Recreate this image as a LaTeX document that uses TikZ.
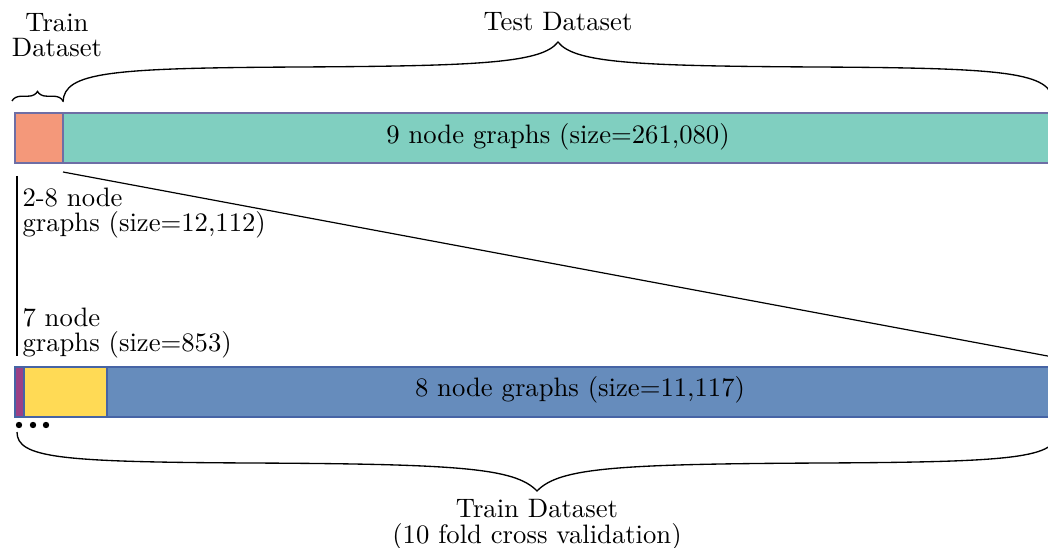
\documentclass[tikz,border=0pt]{standalone}
\usetikzlibrary{decorations.pathreplacing}
\definecolor{corange}{RGB}{244,152,122}
\definecolor{cteal}{RGB}{128,207,192}
\definecolor{cpurple}{RGB}{155,64,134}
\definecolor{cyellow}{RGB}{255,218,85}
\definecolor{cblue}{RGB}{102,140,188}
\definecolor{cedge}{RGB}{110,110,165}
\definecolor{cedgeb}{RGB}{70,100,165}
\tikzset{
  lbl/.style={font=\fontsize{10}{9.6}\selectfont, inner sep=0pt},
  barA/.style={draw=cedge, line width=0.5pt},
  barB/.style={draw=cedgeb, line width=0.5pt},
  brc/.style={decorate, decoration={brace, amplitude=#1}, line width=0.5pt},
  cbr/.style={line width=0.5pt},
  ln/.style={line width=0.45pt}
}
\begin{document}
\begin{tikzpicture}[x=0.375pt, y=-0.375pt]
\useasboundingbox (0,0) rectangle (1048,548);
% top bar
\coordinate (t0) at (15,113);
\coordinate (t1) at (63,163);
\coordinate (t2) at (63,113);
\coordinate (t3) at (1053,163);
\fill[corange] (t0) rectangle (t1);
\fill[cteal] (t2) rectangle (t3);
\draw[barA] (t0) rectangle (t3);
\draw[barA] (t2) -- (t1);
\node[lbl] (nine) at (558,137) {9 node graphs (size=261,080)};
% bottom bar
\coordinate (b0) at (15,367);
\coordinate (b1) at (24,417);
\coordinate (b2) at (24,367);
\coordinate (b3) at (107,417);
\coordinate (b4) at (107,367);
\coordinate (b5) at (1053,417);
\fill[cpurple] (b0) rectangle (b1);
\fill[cyellow] (b2) rectangle (b3);
\fill[cblue] (b4) rectangle (b5);
\draw[barB] (b0) rectangle (b5);
\draw[barB] (b2) -- (b1) (b4) -- (b3);
\node[lbl] (eight) at (580,390) {8 node graphs (size=11,117)};
% dots
\foreach \i/\x in {1/19,2/33,3/46} \fill (\x,425) circle (1.2pt);
% lines
\coordinate (v0) at (17,176);
\coordinate (v1) at (17,356);
\draw[ln] (v0) -- (v1);
\coordinate (d0) at (63,172);
\coordinate (d1) at (1053,357);
\draw[ln] (d0) -- (d1);
% labels
\node[lbl, align=left, anchor=west] (l28) at (22,213) {2-8 node\\graphs (size=12,112)};
\node[lbl, align=left, anchor=west] (l7) at (22,333) {7 node\\graphs (size=853)};
% top small brace
\coordinate (s0) at (12,101);
\coordinate (s1) at (63,101);
\draw[brc=3.6pt] (s0) -- (s1);
% top big brace
\coordinate (gL) at (63,102);
\coordinate (gT) at (558,42);
\coordinate (gR) at (1053,102);
\draw[cbr] (gL) .. controls (64,72) and (110,68) .. (300,67)
  .. controls (480,66) and (542,63) .. (gT)
  .. controls (574,63) and (636,66) .. (816,67)
  .. controls (1006,68) and (1052,72) .. (gR);
\node[lbl, align=center] (trA) at (57,35) {Train\\Dataset};
\node[lbl] (test) at (558,22) {Test Dataset};
% bottom brace
\coordinate (hL) at (17,432);
\coordinate (hT) at (537,491);
\coordinate (hR) at (1057,432);
\draw[cbr] (hL) .. controls (17,458) and (60,462) .. (250,463)
  .. controls (460,464) and (515,468) .. (hT)
  .. controls (559,468) and (614,464) .. (824,463)
  .. controls (1014,462) and (1057,458) .. (hR);
\node[lbl, align=center] (trB) at (537,525) {Train Dataset\\(10 fold cross validation)};
\end{tikzpicture}
\end{document}
